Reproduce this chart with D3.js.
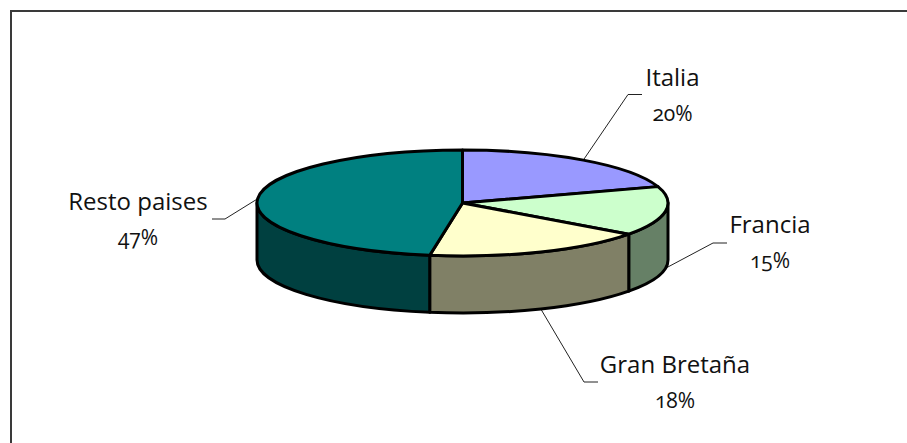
<!DOCTYPE html>
<html><head><meta charset="utf-8"><script src="https://cdn.jsdelivr.net/npm/d3@7"></script>
<style>html,body{margin:0;padding:0;background:#fff}svg{display:block}
text{font-family:"Open Sans",sans-serif;font-feature-settings:"onum" 1;fill:#111}</style></head><body><div id="c"></div>
<script>
const categories=["Italia","Francia","Gran Bretaña","Resto paises"];
const values=[20,15,17.55,47.45];
const topColors=["#9999ff","#ccffcc","#ffffcc","#008080"];
const sideColors=["#4d4d80","#668066","#808066","#004040"];
const W=907,H=443,cx=462.5,cy=203,rx=205.5,ry=53,depth=57;
const svg=d3.select("#c").append("svg").attr("width",W).attr("height",H);
svg.append("path").attr("d",d3.line()([[11,443],[11,11],[907,11]])).attr("fill","none").attr("stroke","#3a3a3a").attr("stroke-width",2);
const pie=d3.pie().sort(null).value(d=>d)(values);
const px=a=>cx+rx*Math.sin(a),py=a=>cy-ry*Math.cos(a);
const topPath=d=>{const p=d3.path();p.moveTo(cx,cy);p.lineTo(px(d.startAngle),py(d.startAngle));
 return p+`A${rx},${ry} 0 ${d.endAngle-d.startAngle>Math.PI?1:0} 1 ${px(d.endAngle)},${py(d.endAngle)}Z`;};
const sidePath=d=>{const a=Math.max(d.startAngle,Math.PI/2),b=Math.min(d.endAngle,Math.PI*1.5);if(b<=a)return null;
 return `M${px(a)},${py(a)}A${rx},${ry} 0 0 1 ${px(b)},${py(b)}L${px(b)},${py(b)+depth}A${rx},${ry} 0 0 0 ${px(a)},${py(a)+depth}Z`;};
const lines=[[[628,94.5],[642,94.5]],[[713,243],[727,243]],[[584,382],[598,382]],[[225,219],[212,219]]];
const onBottom=[false,true,true,false];
const labelPos=[[672.5,86],[770,233],[675,373],[138,210]];
pie.forEach((d,i)=>{const m=(d.startAngle+d.endAngle)/2,ax=px(m),ay=py(m)+(onBottom[i]?depth:0);
 svg.append("path").attr("d",d3.line()([[ax,ay],...lines[i]])).attr("fill","none").attr("stroke","#222").attr("stroke-width",1);});
const g=svg.append("g").attr("stroke","#000").attr("stroke-width",3).attr("stroke-linejoin","round");
g.selectAll(".side").data(pie.filter(sidePath)).join("path").attr("d",sidePath).attr("fill",d=>sideColors[d.index]);
g.selectAll(".top").data(pie).join("path").attr("d",topPath).attr("fill",d=>topColors[d.index]);
pie.forEach((d,i)=>{const t=svg.append("text").attr("text-anchor","middle");
 t.append("tspan").attr("x",labelPos[i][0]).attr("y",labelPos[i][1]).attr("font-size",24).text(categories[i]);
 t.append("tspan").attr("x",labelPos[i][0]).attr("y",labelPos[i][1]+35).attr("font-size",21).text(d3.format(".0%")(values[i]/100));});
</script></body></html>
